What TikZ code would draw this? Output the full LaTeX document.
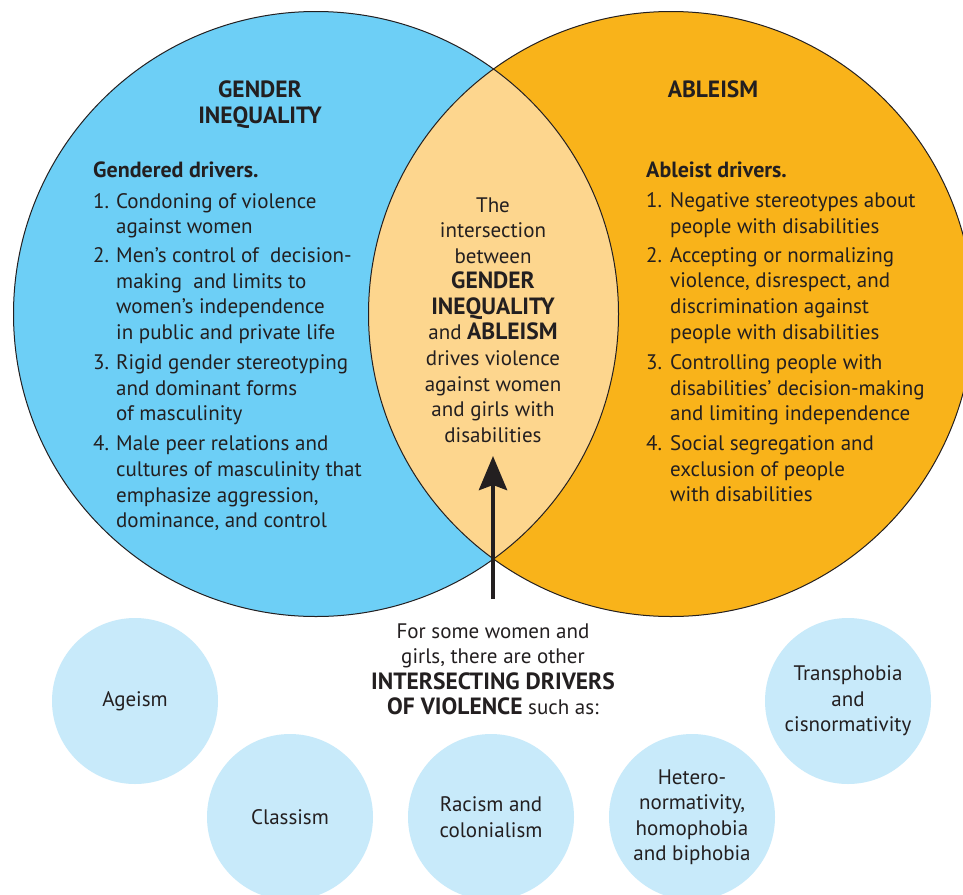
\documentclass[tikz,border=0pt]{standalone}
\usepackage{fontspec}
\setmainfont{PT Sans}
\usetikzlibrary{arrows.meta}
\definecolor{gblue}{RGB}{109,207,246}
\definecolor{aorange}{RGB}{249,179,26}
\definecolor{lensc}{RGB}{253,214,142}
\definecolor{pale}{RGB}{200,234,250}
\definecolor{ink}{RGB}{35,31,32}
\newcommand\boldcaps[1]{{\fontsize{23.5}{25.5}\selectfont\bfseries #1}}
\newcommand\boldlow[1]{{\fontsize{22}{25.5}\selectfont\bfseries #1}}
\tikzset{
  txt/.style={inner sep=0pt, text=ink, font=\fontsize{21}{25.5}\selectfont},
  ttl/.style={inner sep=0pt, text=ink, font=\fontsize{23.5}{26}\selectfont\bfseries},
  smallc/.style={circle, fill=pale, minimum size=166pt, inner sep=0pt, align=center, text=ink, font=\fontsize{21}{25.5}\selectfont},
}
\begin{document}
\begin{tikzpicture}[x=1pt,y=-1pt]
\useasboundingbox (0,0) rectangle (963,894);
\clip (0,0) rectangle (963,894);
\fill[white] (0,0) rectangle (963,894);
% big circles
\fill[gblue] (316,314) circle[radius=302.5pt];
\fill[aorange] (671,314) circle[radius=302.5pt];
\begin{scope}
  \clip (316,314) circle[radius=302.5pt];
  \fill[lensc] (671,314) circle[radius=302.5pt];
\end{scope}
\draw[ink, line width=1pt] (316,314) circle[radius=302.5pt];
\draw[ink, line width=1pt] (671,314) circle[radius=302.5pt];
% titles
\node[ttl, anchor=base] (t1) at (260,97) {GENDER};
\node[ttl, anchor=base] (t2) at (260,123) {INEQUALITY};
\node[ttl, anchor=base] (t3) at (713,97) {ABLEISM};
% left list
\node[txt, anchor=base west] (lh) at (93,177) {\boldlow{Gendered drivers.}};
\foreach \yy/\nn [count=\i] in {208/1., 262/2., 369/3., 450/4.}
  \node[txt, anchor=base west] (ln\i) at (93,\yy) {\nn};
\foreach \yy/\lbl [count=\i] in {
  208/Condoning of violence,
  233/against women,
  262/Men’s control of\ \ decision-,
  288/making\ \ and limits to,
  313/women’s independence,
  339/in public and private life,
  369/Rigid gender stereotyping,
  395/and dominant forms,
  420/of masculinity,
  450/Male peer relations and,
  476/cultures of masculinity that,
  502/{emphasize aggression,},
  527/{dominance, and control}}
  \node[txt, anchor=base west] (ll\i) at (116,\yy) {\lbl};
% right list
\node[txt, anchor=base west] (rh) at (646,177) {\boldlow{Ableist drivers.}};
\foreach \yy/\nn [count=\i] in {207/1., 262/2., 369/3., 450/4.}
  \node[txt, anchor=base west] (rn\i) at (646,\yy) {\nn};
\foreach \yy/\lbl [count=\i] in {
  207/Negative stereotypes about,
  233/people with disabilities,
  262/Accepting or normalizing,
  287/{violence, disrespect, and},
  313/discrimination against,
  339/people with disabilities,
  369/Controlling people with,
  395/disabilities’ decision-making,
  420/and limiting independence,
  450/Social segregation and,
  476/exclusion of people,
  501/with disabilities}
  \node[txt, anchor=base west] (rl\i) at (670,\yy) {\lbl};
% centre text
\foreach \yy/\lbl [count=\i] in {
  212/The,
  237/intersection,
  263/between,
  288/\boldcaps{GENDER},
  314/\boldcaps{INEQUALITY},
  339/and \boldcaps{ABLEISM},
  365/drives violence,
  391/against women,
  416/and girls with,
  442/disabilities}
  \node[txt, anchor=base] (m\i) at (493,\yy) {\lbl};
% arrow
\coordinate (foot) at (493,599);
\coordinate (tip) at (493,456);
\draw[ink, line width=4.5pt, -{Stealth[length=34pt, width=28pt, inset=5pt]}] (foot) -- (tip);
% bottom text
\foreach \yy/\lbl [count=\i] in {
  638/For some women and,
  663/{girls, there are other},
  689/\boldcaps{INTERSECTING DRIVERS},
  714/\boldcaps{OF VIOLENCE} such as:}
  \node[txt, anchor=base] (b\i) at (493,\yy) {\lbl};
% small circles
\node[smallc] (ageism) at (135,701) {Ageism};
\node[smallc] (classism) at (290,817) {Classism};
\node[smallc] (racism) at (491,817) {Racism and\\colonialism};
\node[smallc] (hetero) at (692,817) {Hetero-\\normativity,\\homophobia\\and biphobia};
\node[smallc] (trans) at (848,701) {Transphobia\\and\\cisnormativity};
\end{tikzpicture}
\end{document}
